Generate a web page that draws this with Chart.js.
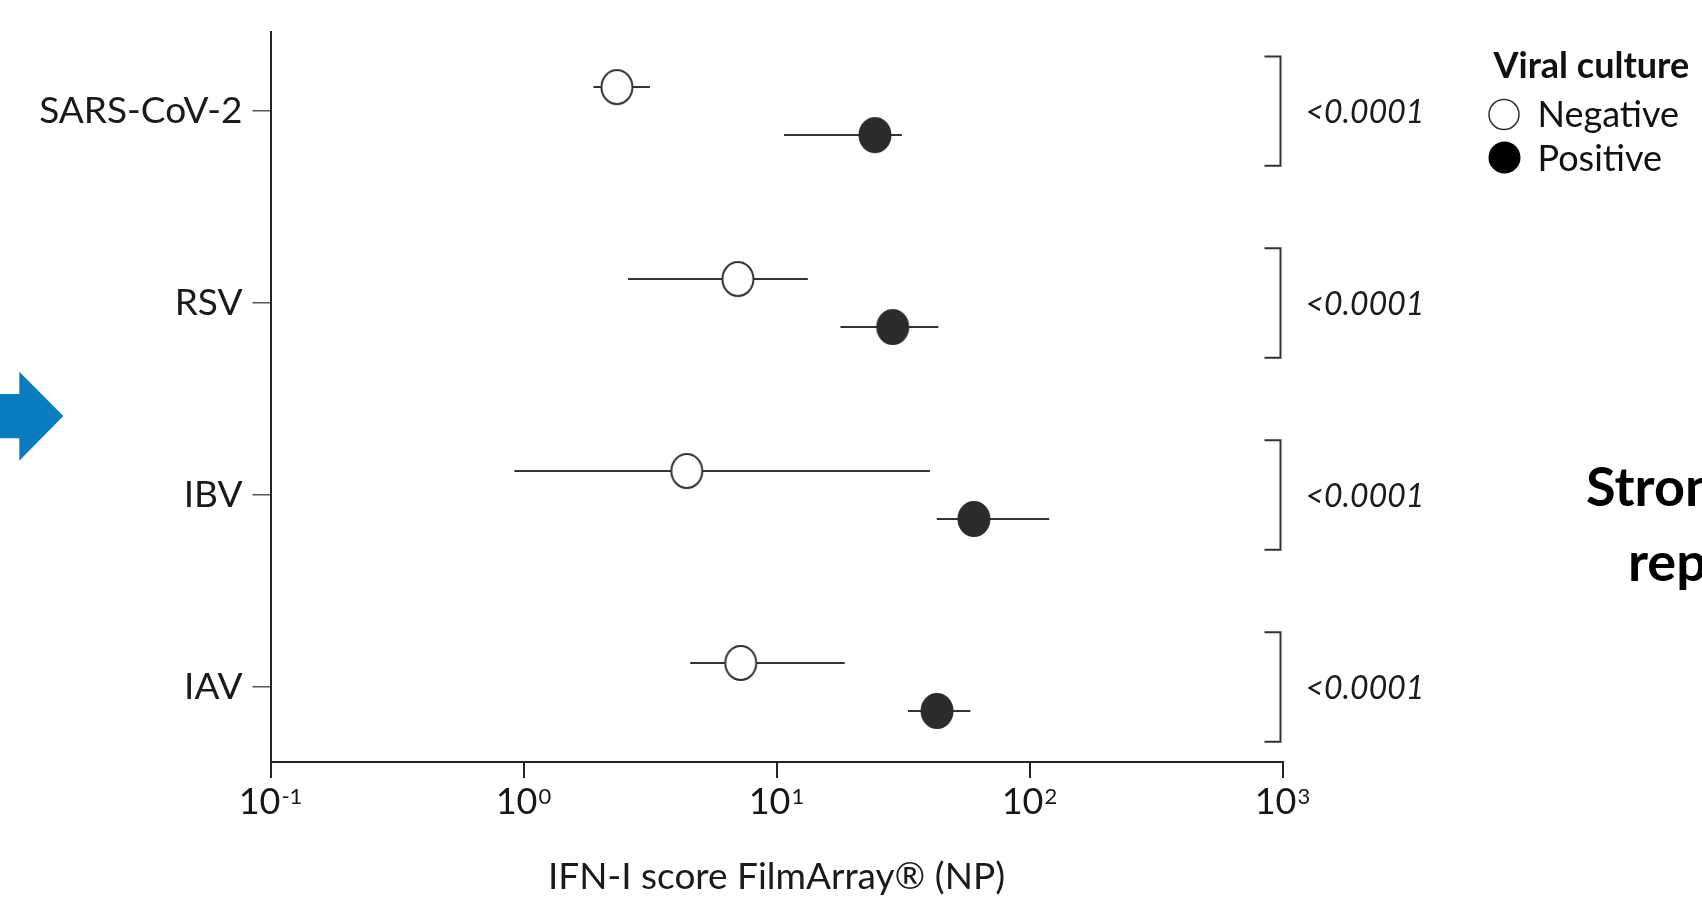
<!DOCTYPE html>
<html>
<head>
<meta charset="utf-8">
<script src="https://cdn.jsdelivr.net/npm/chart.js@4.4.0/dist/chart.umd.min.js"></script>
<style>
  html, body { margin: 0; padding: 0; background: #fff; overflow: hidden; }
  #wrap { position: relative; width: 1702px; height: 899px; overflow: hidden; }
  #chart { position: absolute; left: 0; top: 0; }
  .arrow { position: absolute; left: 0; top: 0; }
  .side { position: absolute; font-family: Lato, sans-serif; font-weight: 700; font-size: 54px;
          line-height: 1; color: #000; white-space: nowrap; }
</style>
</head>
<body>
<div id="wrap">
  <canvas id="chart" width="1702" height="899"></canvas>
  <svg class="arrow" width="70" height="899">
    <polygon points="0,394 19.3,394 19.3,371.7 63.3,416 19.3,460.7 19.3,438.3 0,438.3" fill="#0b7bbf"/>
  </svg>
  <div class="side" style="left:1586px; top:459px;">Stron</div>
  <div class="side" style="left:1628px; top:534px;">rep</div>
</div>
<script>
// categories, top to bottom
const categories = ['SARS-CoV-2', 'RSV', 'IBV', 'IAV'];
const yPos = [4, 3, 2, 1];

// viral culture negative (open circles): median and range
const negMedian = [2.34, 7.04, 4.42, 7.22];
const negLow = [1.89, 2.59, 0.92, 4.56];
const negHigh = [3.16, 13.3, 40.4, 18.6];

// viral culture positive (filled circles)
const posMedian = [24.5, 28.8, 60.3, 43.1];
const posLow = [10.7, 17.9, 43.0, 33.1];
const posHigh = [31.3, 43.6, 119.7, 58.4];

const pValues = ['<0.0001', '<0.0001', '<0.0001', '<0.0001'];
const xTickValues = [0.1, 1, 10, 100, 1000];

// vertical shift of each group inside its row, and bracket half height (y units)
const rowOffset = 0.125;
const bracketHalf = 0.285;

function ellipseMarker(fill, stroke) {
    const c = document.createElement('canvas');
    c.width = 36; c.height = 40;
    const g = c.getContext('2d');
    g.beginPath();
    g.ellipse(18, 20, 15.5, 17, 0, 0, Math.PI * 2);
    g.fillStyle = fill;
    g.fill();
    g.lineWidth = 2;
    g.strokeStyle = stroke;
    g.stroke();
    return c;
}

function rangeData(lo, hi, off) {
    const out = [];
    lo.forEach((l, i) => {
        out.push({ x: l, y: yPos[i] + off }, { x: hi[i], y: yPos[i] + off }, { x: null, y: null });
    });
    return out;
}

const annotate = {
    id: 'annotate',
    afterDraw(chart) {
        const { ctx, chartArea, scales: { x, y } } = chart;
        ctx.save();

        // x tick labels as 10 with superscript power
        ctx.fillStyle = '#161616';
        ctx.textBaseline = 'alphabetic';
        ctx.textAlign = 'left';
        xTickValues.forEach(v => {
            const px = x.getPixelForValue(v);
            const exp = String(Math.round(Math.log10(v)));
            ctx.font = '36px Lato';
            const w1 = ctx.measureText('10').width;
            ctx.font = '22px Lato';
            const w2 = ctx.measureText(exp).width;
            const left = px - (w1 + 1 + w2) / 2;
            ctx.font = '36px Lato';
            ctx.fillText('10', left, chartArea.bottom + 52);
            ctx.font = '22px Lato';
            ctx.fillText(exp, left + w1 + 1, chartArea.bottom + 42);
        });

        // significance brackets
        ctx.strokeStyle = '#333';
        ctx.lineWidth = 2;
        yPos.forEach((p, i) => {
            const top = y.getPixelForValue(p + bracketHalf);
            const bot = y.getPixelForValue(p - bracketHalf);
            const mid = y.getPixelForValue(p);
            const bx = chartArea.right - 2;
            ctx.beginPath();
            ctx.moveTo(bx - 16, top);
            ctx.lineTo(bx, top);
            ctx.lineTo(bx, bot);
            ctx.lineTo(bx - 16, bot);
            ctx.stroke();
            ctx.font = 'italic 32px Lato';
            ctx.fillStyle = '#1a1a1a';
            ctx.fillText(pValues[i], chartArea.right + 23, mid + 12);
        });

        // legend
        const lx = chartArea.right + 211;
        ctx.fillStyle = '#111';
        ctx.font = 'bold 36px Lato';
        ctx.fillText('Viral culture', lx, 78);
        ctx.beginPath();
        ctx.arc(lx + 10.5, 114.5, 15, 0, Math.PI * 2);
        ctx.fillStyle = '#fff';
        ctx.fill();
        ctx.lineWidth = 1.5;
        ctx.strokeStyle = '#333';
        ctx.stroke();
        ctx.beginPath();
        ctx.arc(lx + 11, 157.5, 16, 0, Math.PI * 2);
        ctx.fillStyle = '#000';
        ctx.fill();
        ctx.fillStyle = '#111';
        ctx.font = '36px Lato';
        ctx.fillText('Negative', lx + 44, 127);
        ctx.fillText('Positive', lx + 44, 170.5);
        ctx.restore();
    }
};

function draw() {
    new Chart(document.getElementById('chart'), {
        type: 'scatter',
        data: {
            datasets: [
                {
                    label: 'Negative',
                    data: negMedian.map((v, i) => ({ x: v, y: yPos[i] + rowOffset })),
                    pointStyle: ellipseMarker('#fff', '#333'),
                    pointRadius: 17,
                    order: 0
                },
                {
                    label: 'Positive',
                    data: posMedian.map((v, i) => ({ x: v, y: yPos[i] - rowOffset })),
                    pointStyle: ellipseMarker('#2c2c2c', '#2c2c2c'),
                    pointRadius: 17,
                    order: 0
                },
                {
                    label: 'Negative range',
                    data: rangeData(negLow, negHigh, rowOffset),
                    showLine: true,
                    spanGaps: false,
                    borderColor: '#333',
                    borderWidth: 2,
                    pointRadius: 0,
                    order: 1
                },
                {
                    label: 'Positive range',
                    data: rangeData(posLow, posHigh, -rowOffset),
                    showLine: true,
                    spanGaps: false,
                    borderColor: '#333',
                    borderWidth: 2,
                    pointRadius: 0,
                    order: 1
                }
            ]
        },
        options: {
            responsive: false,
            animation: false,
            devicePixelRatio: 1,
            layout: { padding: { left: 0, right: 419.5, top: 32, bottom: 0 } },
            plugins: {
                legend: { display: false },
                tooltip: { enabled: false }
            },
            scales: {
                x: {
                    type: 'logarithmic',
                    position: 'bottom',
                    min: 0.1,
                    max: 1000,
                    afterBuildTicks: s => { s.ticks = xTickValues.map(v => ({ value: v })); },
                    afterFit: s => { s.height = 137; },
                    ticks: { display: false },
                    grid: { drawOnChartArea: false, drawTicks: true, tickLength: 16, color: '#222', lineWidth: 2 },
                    border: { display: true, color: '#222', width: 2 },
                    title: {
                        display: true,
                        text: 'IFN-I score FilmArray® (NP)',
                        font: { family: 'Lato', size: 37 },
                        color: '#1a1a1a',
                        padding: { top: 0, bottom: 0 }
                    }
                },
                y: {
                    type: 'linear',
                    min: 0.609,
                    max: 4.411,
                    afterBuildTicks: s => { s.ticks = yPos.map(v => ({ value: v })); },
                    afterFit: s => { s.width = 270.5; },
                    ticks: {
                        callback: v => categories[yPos.indexOf(v)],
                        font: { family: 'Lato', size: 37 },
                        color: '#1a1a1a',
                        padding: 10
                    },
                    grid: { drawOnChartArea: false, drawTicks: true, tickLength: 18, color: '#555', lineWidth: 1.5 },
                    border: { display: true, color: '#222', width: 2 }
                }
            }
        },
        plugins: [annotate]
    });
}

Promise.all([
    document.fonts.load('37px Lato'),
    document.fonts.load('bold 36px Lato'),
    document.fonts.load('italic 32px Lato')
]).then(draw, draw);
</script>
</body>
</html>
